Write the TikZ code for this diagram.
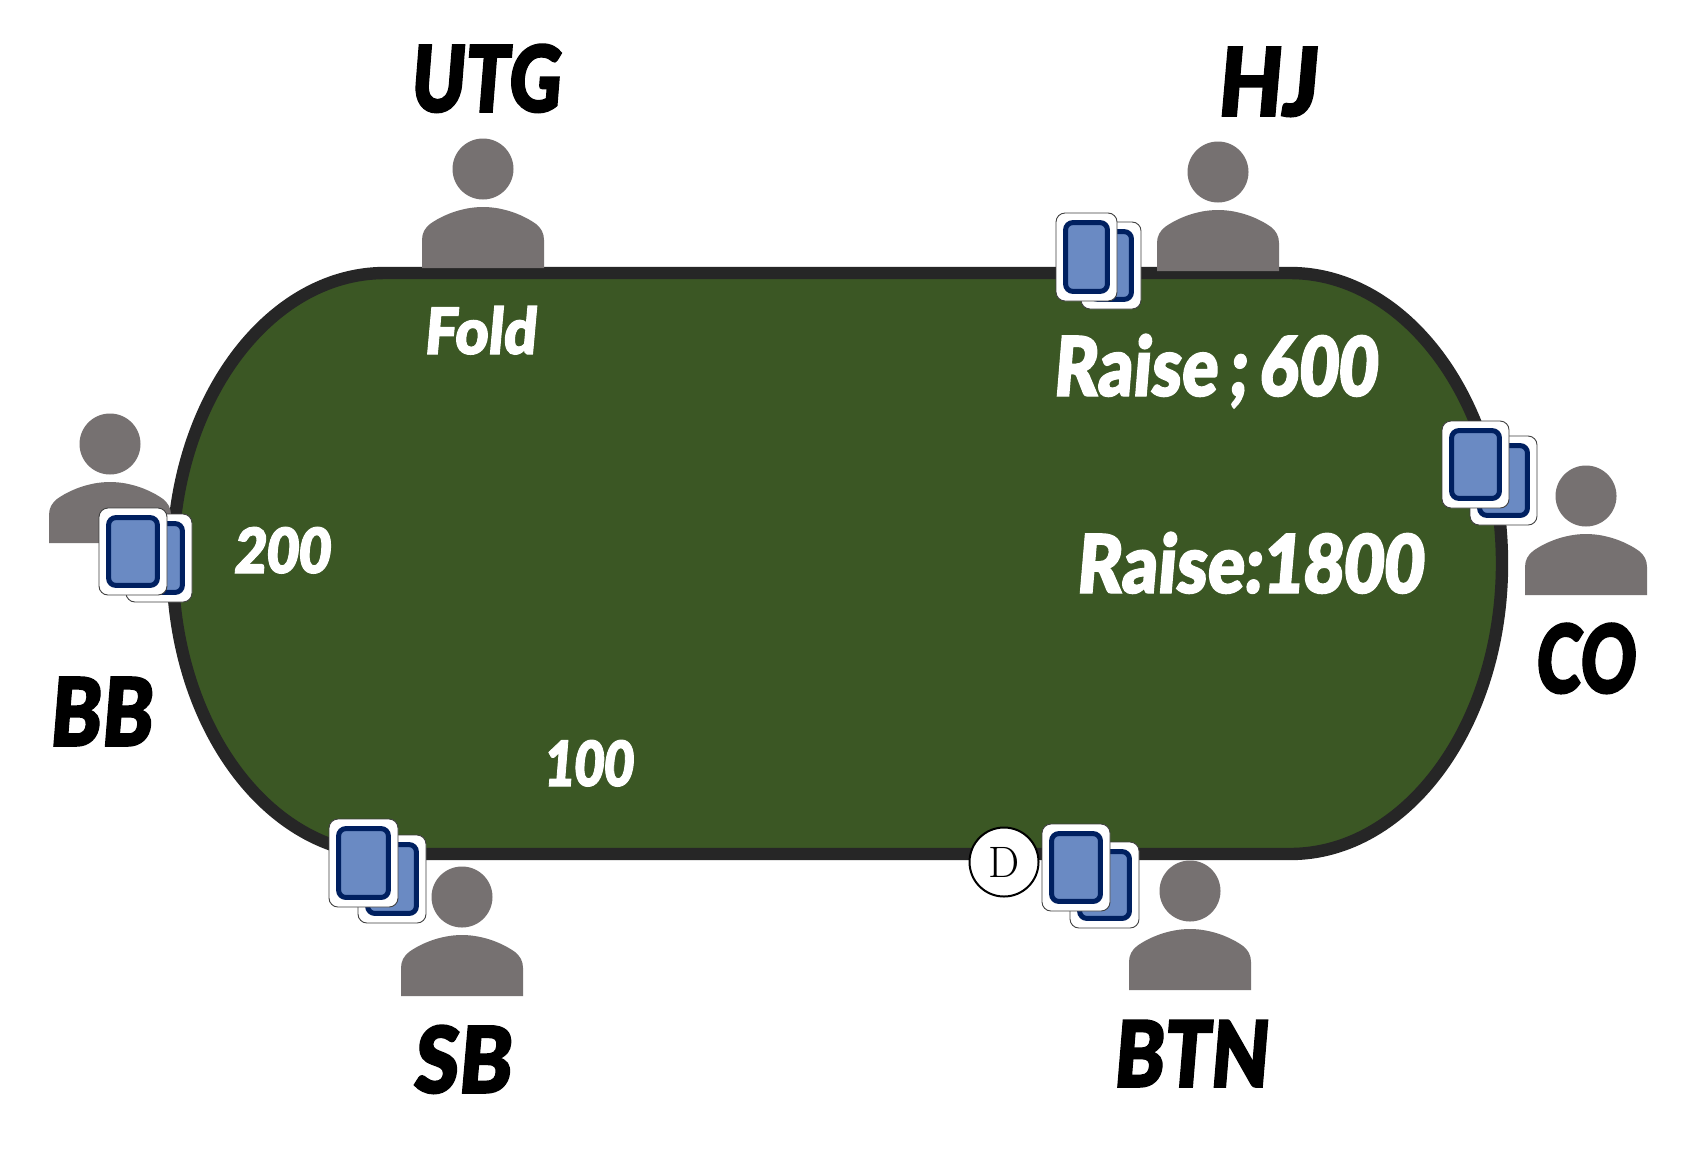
\documentclass[tikz,border=0pt]{standalone}
\usepackage{fontspec}
\usepackage{graphicx}
\newfontfamily\seatfont[FakeSlant=0.10,FakeBold=1.6]{Lato Black}
\definecolor{feltgreen}{HTML}{3B5724}
\definecolor{railgrey}{HTML}{262626}
\definecolor{seatgrey}{HTML}{767171}
\definecolor{cardnavy}{HTML}{002060}
\definecolor{cardblue}{HTML}{6A8AC3}
\tikzset{
  fitted/.style={inner sep=0pt,outer sep=0pt,font=\seatfont},
  seatlabel/.style={fitted,text=black},
  betlabel/.style={fitted,text=white},
  rail/.style={draw=railgrey,fill=feltgreen,line width=6.2pt},
  seatshape/.style={fill=seatgrey,draw=none},
  cardface/.style={fill=white,draw=black!75,line width=0.45pt,rounded corners=4.5pt},
  cardback/.style={fill=cardblue,draw=cardnavy,line width=2.5pt,rounded corners=3.6pt},
  dealerchip/.style={circle,fill=white,draw=black,line width=1pt,minimum size=34.5pt,inner sep=0pt,font=\fontsize{22}{22}\selectfont},
  pics/person/.style={code={
    \fill[seatshape] (0,0) circle[radius=30.5];
    \fill[seatshape] (-61,99) -- (-61,71)
      .. controls (-61,64) and (-58,59) .. (-53,55)
      .. controls (-42,47) and (-22,38) .. (0,38)
      .. controls (22,38) and (42,47) .. (53,55)
      .. controls (58,59) and (61,64) .. (61,71)
      -- (61,99) -- cycle;
  }}
}
% one playing card from its outer corners, in picture units
\newcommand{\playcard}[4]{%
  \path[cardface] (#1,#2) rectangle (#3,#4);
  \path[cardback] ({#1+9.6},{#2+9.6}) rectangle ({#3-9.6},{#4-9.6});
}
% a label stretched over the box (x0,y0)-(x1,y1), descenders not counted;
% the slanted glyphs overhang their box, hence the small shift to the left
\newcommand{\fitlabel}[7]{%
  \pgfmathsetlengthmacro{\fitw}{(#5-#3+2)*0.5pt}%
  \pgfmathsetlengthmacro{\fith}{(#6-#4)*0.5pt}%
  \node[#1] (#2) at ({(#3+#5)/2-3.5},{(#4+#6)/2}) {\resizebox{\fitw}{\fith}{\raisebox{0pt}[\height][0pt]{#7}}};
}
\begin{document}
\begin{tikzpicture}[x=0.5pt,y=-0.5pt]
\useasboundingbox (0,0) rectangle (1690,1157);
\fill[white] (0,0) rectangle (1690,1157);

% table
\path[rail] (385,273) -- (1290,273)
  arc[start angle=-90,end angle=90,x radius=212,y radius=290.5]
  -- (385,854)
  arc[start angle=90,end angle=270,x radius=212.5,y radius=290.5]
  -- cycle;

% seats
\pic at (483,169) {person};
\pic at (1218,172) {person};
\pic at (1586,496) {person};
\pic at (1190,891) {person};
\pic at (462,897) {person};
\pic at (110,444) {person};

% hole cards, rear card first
\playcard{1081}{222}{1141}{309}
\playcard{1056}{213}{1117}{301}
\playcard{1470}{436}{1537}{525}
\playcard{1442}{421}{1509}{508}
\playcard{1070}{842}{1139}{928}
\playcard{1042}{824}{1110}{911}
\playcard{358}{835}{426}{923}
\playcard{329}{819}{398}{907}
\playcard{126}{514}{192}{602}
\playcard{99}{508}{167}{595}

% dealer button
\node[dealerchip] (dealer) at (1004,862) {D};

% seat names
\fitlabel{seatlabel}{utg}{414}{44}{562}{112}{UTG}
\fitlabel{seatlabel}{hj}{1221}{47}{1319}{116}{HJ}
\fitlabel{seatlabel}{co}{1539}{623}{1637}{693}{CO}
\fitlabel{seatlabel}{btn}{1117}{1020}{1270}{1087}{BTN}
\fitlabel{seatlabel}{sb}{417}{1025}{513}{1093}{SB}
\fitlabel{seatlabel}{bb}{53}{677}{154}{746}{BB}

% actions and bets
\fitlabel{betlabel}{foldtxt}{428}{306}{538}{354}{Fold}
\fitlabel{betlabel}{raisesix}{1057}{334}{1379}{396}{Raise\,;\,600}
\fitlabel{betlabel}{raiseeight}{1080}{532}{1425}{593}{Raise:1800}
\fitlabel{betlabel}{bigblind}{238}{527}{332}{573}{200}
\fitlabel{betlabel}{smallblind}{548}{740}{635}{786}{100}
\end{tikzpicture}
\end{document}
